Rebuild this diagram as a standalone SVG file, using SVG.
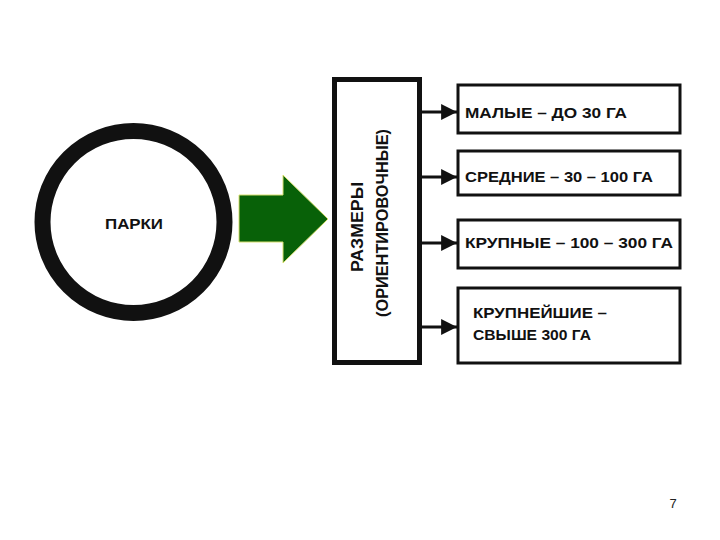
<svg xmlns="http://www.w3.org/2000/svg" width="720" height="540" viewBox="0 0 720 540">
<style>
  .t { font-family: "Liberation Sans", Arial, sans-serif; font-weight: bold; font-size: 14.5px; fill: #111; }
  .rt { font-family: "Liberation Sans", Arial, sans-serif; font-weight: bold; font-size: 16px; fill: #111; }
  .box { fill: #fff; stroke: #111; stroke-width: 3; }
  .ln { stroke: #111; stroke-width: 3; fill: none; }
</style>
<defs>
  <marker id="ah" viewBox="0 0 10 10" refX="10" refY="5" markerWidth="5.3" markerHeight="7" markerUnits="strokeWidth" orient="auto">
    <path d="M0,0 L10,5 L0,10 Z" fill="#111"/>
  </marker>
</defs>
<rect width="720" height="540" fill="#fff"/>
<g id="parki">
  <circle cx="133.5" cy="222" r="91" fill="#fff" stroke="#111" stroke-width="16"/>
  <text class="t" x="134" y="229" text-anchor="middle" font-size="17" textLength="58" lengthAdjust="spacingAndGlyphs">ПАРКИ</text>
</g>
<g id="green-arrow">
  <path d="M239,195 L283,195 L283,175 L328,219 L283,263 L283,242 L239,242 Z" fill="#086108" stroke="#d8e070" stroke-width="1"/>
</g>
<g id="razmery">
  <rect x="334.5" y="79.5" width="85" height="283" fill="#fff" stroke="#111" stroke-width="5"/>
  <text class="rt" transform="translate(363,227) rotate(-90)" text-anchor="middle" textLength="90" lengthAdjust="spacingAndGlyphs">РАЗМЕРЫ</text>
  <text class="rt" transform="translate(388,223) rotate(-90)" text-anchor="middle" textLength="188" lengthAdjust="spacingAndGlyphs">(ОРИЕНТИРОВОЧНЫЕ)</text>
</g>
<g id="connectors">
  <line class="ln" x1="420" y1="112" x2="457" y2="112" marker-end="url(#ah)"/>
  <line class="ln" x1="420" y1="177" x2="457" y2="177" marker-end="url(#ah)"/>
  <line class="ln" x1="420" y1="243" x2="457" y2="243" marker-end="url(#ah)"/>
  <line class="ln" x1="420" y1="327" x2="457" y2="327" marker-end="url(#ah)"/>
</g>
<g id="small">
  <rect class="box" x="458" y="85" width="222" height="48"/>
  <text class="t" x="465" y="118" textLength="162" lengthAdjust="spacingAndGlyphs">МАЛЫЕ – ДО 30 ГА</text>
</g>
<g id="medium">
  <rect class="box" x="458" y="151" width="222" height="44"/>
  <text class="t" x="465" y="182" textLength="188" lengthAdjust="spacingAndGlyphs">СРЕДНИЕ – 30 – 100 ГА</text>
</g>
<g id="large">
  <rect class="box" x="458" y="220" width="222" height="48"/>
  <text class="t" x="465" y="248" textLength="208" lengthAdjust="spacingAndGlyphs">КРУПНЫЕ – 100 – 300 ГА</text>
</g>
<g id="largest">
  <rect class="box" x="458" y="288" width="222" height="75"/>
  <text class="t" x="473" y="318" textLength="134" lengthAdjust="spacingAndGlyphs">КРУПНЕЙШИЕ –</text>
  <text class="t" x="473" y="340" textLength="118" lengthAdjust="spacingAndGlyphs">СВЫШЕ 300 ГА</text>
</g>
<text x="673" y="508" text-anchor="middle" font-family="Liberation Sans, Arial, sans-serif" font-size="13" fill="#222">7</text>
</svg>
